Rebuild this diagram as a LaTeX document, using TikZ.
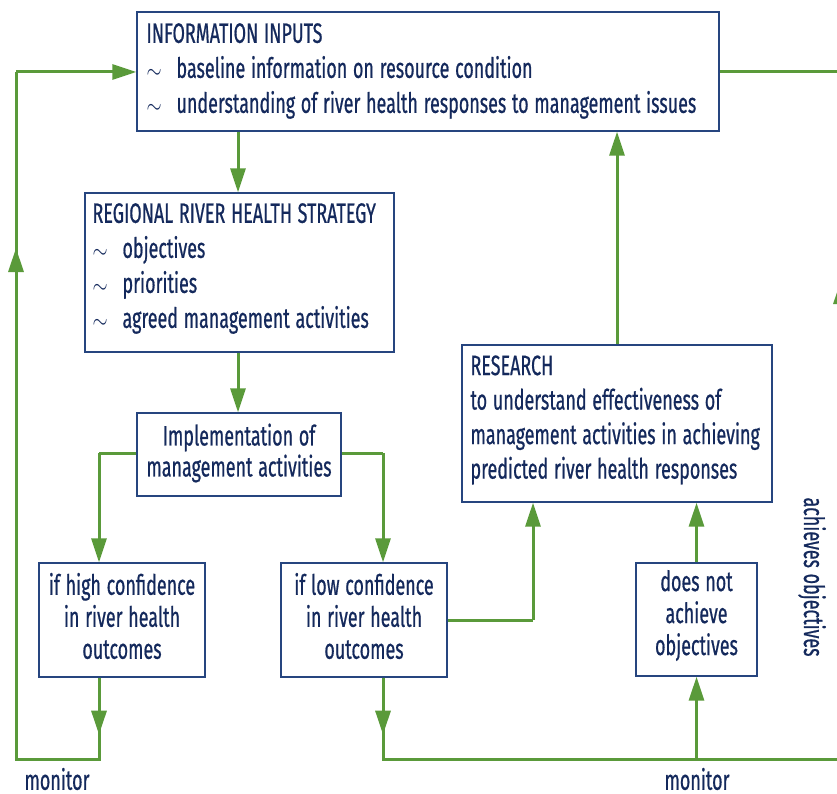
\documentclass[tikz,border=0pt]{standalone}
\usepackage{fontspec}
\setmainfont{Fira Sans}[FakeStretch=0.64, FakeBold=0.6, WordSpace=1.2]
\usetikzlibrary{arrows.meta}
\definecolor{navy}{HTML}{14295C}
\definecolor{boxline}{HTML}{26457F}
\definecolor{leaf}{HTML}{5A9A3A}
\newcommand{\tl}{\makebox[30pt][l]{\raisebox{-1pt}{\scalebox{0.78}[1.0]{$\sim$}}}}
\begin{document}
\begin{tikzpicture}[x=1pt,y=-1pt,
  box/.style={draw=boxline, line width=1.4pt, inner sep=0pt, fill=white},
  txt/.style={text=navy, inner sep=0pt, anchor=west, align=left, font=\fontsize{28}{35}\selectfont},
  ctxt/.style={text=navy, inner sep=0pt, align=center, font=\fontsize{28}{32}\selectfont},
  flow/.style={draw=leaf, line width=3pt},
  tip/.style={flow, -{Triangle[length=24pt,width=15pt]}},
  lab/.style={text=navy, font=\fontsize{28}{28}\selectfont, inner sep=0pt}]
\useasboundingbox (0,0) rectangle (837,794);
\begin{scope}
\clip (0,0) rectangle (837,794);
% boxes
\node[box, minimum width=582, minimum height=119] (info) at (428,71.5) {};
\node[txt] (infotext) at ([xshift=10pt,yshift=0.5pt]info.west)
  {INFORMATION INPUTS\\ \tl baseline information on resource condition\\ \tl understanding of river health responses to management issues};
\node[box, minimum width=309, minimum height=159] (rrhs) at (239.5,272.5) {};
\node[txt] (rrhstext) at ([xshift=8pt,yshift=4pt]rrhs.west)
  {REGIONAL RIVER HEALTH STRATEGY\\ \tl objectives\\ \tl priorities\\ \tl agreed management activities};
\node[box, minimum width=204, minimum height=83] (impl) at (239,454.5) {};
\node[ctxt, font=\fontsize{28}{31}\selectfont] (impltext) at ([yshift=1.5pt]impl.center)
  {Implementation of\\ management activities};
\node[box, minimum width=166, minimum height=114] (high) at (122,620) {};
\node[ctxt] (hightext) at ([yshift=4pt]high.center)
  {if high confidence\\ in river health\\ outcomes};
\node[box, minimum width=166, minimum height=114] (low) at (364,620) {};
\node[ctxt] (lowtext) at ([yshift=4pt]low.center)
  {if low confidence\\ in river health\\ outcomes};
\node[box, minimum width=310, minimum height=157] (res) at (617,423.5) {};
\node[txt, font=\fontsize{28}{34.5}\selectfont] (restext) at ([xshift=9pt,yshift=3.5pt]res.west)
  {RESEARCH\\ to understand effectiveness of\\ management activities in achieving\\ predicted river health responses};
\node[box, minimum width=121, minimum height=113] (dna) at (696.5,619.5) {};
\node[ctxt] (dnatext) at ([yshift=4pt]dna.center)
  {does not\\ achieve\\ objectives};
% labels
\node[lab] (mon1) at (57,779) {monitor};
\node[lab] (mon2) at (697,779) {monitor};
\node[lab, rotate=-90] (ach) at (812,577) {achieves objectives};
% coordinates
\coordinate (hturn) at (99,759);
\coordinate (lcorner) at (16,759);
\coordinate (ltop) at (16,72);
\coordinate (lturn) at (383,759);
\coordinate (rcorner) at (841,759);
\coordinate (rtop) at (841,72);
\coordinate (lowout) at (533,620);
\coordinate (leftdrop) at (99,453);
\coordinate (rightdrop) at (383,453);
% straight connectors
\draw[tip] (info.south -| 238,0) -- (rrhs.north -| 238,0);
\draw[tip] (rrhs.south -| 238,0) -- (impl.north -| 238,0);
\draw[flow] (impl.west |- leftdrop) -- (leftdrop);
\draw[tip] (leftdrop) -- (high.north -| leftdrop);
\draw[flow] (impl.east |- rightdrop) -- (rightdrop);
\draw[tip] (rightdrop) -- (low.north -| rightdrop);
\draw[flow] (low.east |- lowout) -- (lowout);
\draw[tip] (lowout) -- (res.south -| lowout);
\draw[tip] (res.north) -- (info.south -| res.north);
\draw[tip] (dna.north) -- (res.south -| dna.north);
% left monitoring loop
\draw[flow] (high.south -| hturn) -- (hturn) -- (lcorner) -- (ltop);
\draw[tip] (high.south -| hturn) -- ++(0,57);
\draw[tip] (lcorner) -- (16,248);
\draw[tip] (ltop) -- (info.west |- ltop);
% right monitoring loop
\draw[flow] (low.south -| lturn) -- (lturn) -- (rcorner) -- (rtop) -- (info.east |- rtop);
\draw[tip] (low.south -| lturn) -- ++(0,57);
\draw[tip] (rcorner) -- (841,280);
\draw[tip] (dna.south |- rcorner) -- (dna.south);
\end{scope}
\end{tikzpicture}
\end{document}
